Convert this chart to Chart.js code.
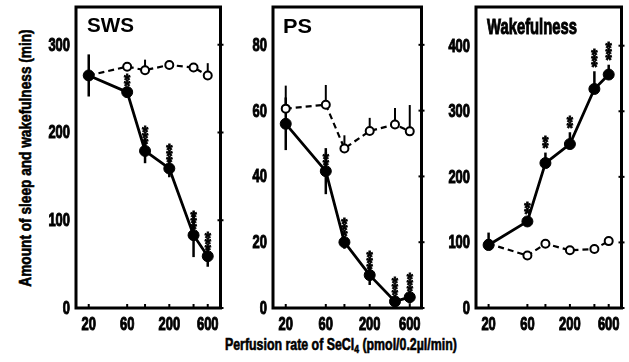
<!DOCTYPE html>
<html>
<head>
<meta charset="utf-8">
<script src="https://cdn.jsdelivr.net/npm/chart.js@4.4.1/dist/chart.umd.min.js"></script>
<style>
  body { margin: 0; background: #fff; width: 629px; height: 362px; overflow: hidden; position: relative; }
  canvas { position: absolute; top: 0; }
  .lab { position: absolute; white-space: nowrap; font-family: "Liberation Sans", Arial, sans-serif; font-weight: bold; font-size: 16px; color: #000; line-height: 1; -webkit-text-stroke: 0.6px #000; }
  sub { font-size: 11px; vertical-align: -3px; line-height: 0; }
</style>
</head>
<body>
<canvas id="sws" width="191" height="333" style="left:36px"></canvas>
<canvas id="ps" width="195" height="333" style="left:233px"></canvas>
<canvas id="wake" width="192" height="333" style="left:436px"></canvas>
<div class="lab" id="ylab">Amount of sleep and wakefulness (min)</div>
<div class="lab" id="xlab">Perfusion rate of SeCl<sub>4</sub> (pmol/0.2µl/min)</div>
<script>
// doses on the log x axis (pmol/0.2ul/min)
const doses = [20, 60, 100, 200, 400, 600];
const doseLabels = [20, 60, 200, 600];

// SWS panel
const swsSeCl = [265, 246, 179, 159, 83, 59];
const swsSeClErr = [24, 6, 14, 10, 25, 12];
const swsControl = [265, 275, 271, 277, 274, 265];
const swsControlErr = [0, 3, 12, 0, 5, 14];
const swsStars = [0, 2, 3, 3, 3, 3];
const swsTicks = [0, 100, 200, 300];

// PS panel
const psSeCl = [56, 41.6, 20, 10, 2, 3.3];
const psSeClErr = [8, 7, 2, 3, 2, 2];
const psControl = [60.6, 61.8, 48.5, 53.8, 55.8, 53.7];
const psControlErr = [7, 6, 4, 4, 5, 8];
const psStars = [0, 2, 3, 3, 3, 3];
const psTicks = [0, 20, 40, 60, 80];

// Wakefulness panel
const wakeSeCl = [96, 132, 221, 250, 334, 356];
const wakeSeClErr = [19, 5, 16, 18, 27, 15];
const wakeControl = [98, 80, 98, 88, 90, 102];
const wakeControlErr = [5, 3, 3, 2, 3, 3];
const wakeStars = [0, 2, 2, 2, 3, 3];
const wakeTicks = [0, 100, 200, 300, 400];

const FONT = '"Liberation Sans", Arial, sans-serif';

// bold text squeezed horizontally (the scan uses a condensed face)
function condText(ctx, text, x, y, size, sx, align, heavy) {
  ctx.save();
  ctx.font = 'bold ' + size + 'px ' + FONT;
  ctx.translate(x, y);
  ctx.scale(sx, 1);
  ctx.textAlign = align;
  ctx.textBaseline = 'middle';
  ctx.fillStyle = '#000';
  ctx.fillText(text, 0, 0);
  if (heavy) {
    ctx.strokeStyle = '#000';
    ctx.lineWidth = heavy;
    ctx.strokeText(text, 0, 0);
  }
  ctx.restore();
}

const decoPlugin = {
  id: 'deco',
  beforeDatasetsDraw(chart, args, o) {
    const { ctx, scales: { x, y } } = chart;
    ctx.save();
    ctx.strokeStyle = '#000';
    ctx.lineCap = 'butt';
    const bar = (vals, errs, dir, lw) => {
      ctx.lineWidth = lw;
      vals.forEach((v, i) => {
        if (!errs[i]) return;
        const px = x.getPixelForValue(doses[i]);
        const top = dir === 'down' ? v : v + errs[i];
        const bot = dir === 'up' ? v : v - errs[i];
        ctx.beginPath();
        ctx.moveTo(px, y.getPixelForValue(top));
        ctx.lineTo(px, y.getPixelForValue(bot));
        ctx.stroke();
      });
    };
    bar(o.seCl, o.seClErr, o.seClDir, 2.5);
    bar(o.ctrl, o.ctrlErr, o.ctrlDir, 2);
    ctx.restore();
  },
  afterDatasetsDraw(chart, args, o) {
    const { ctx, scales: { x, y } } = chart;
    o.stars.forEach((n, i) => {
      const px = x.getPixelForValue(doses[i]);
      let base = y.getPixelForValue(o.seCl[i]) - 9;
      if (o.starsOverErr) base = y.getPixelForValue(o.seCl[i] + o.seClErr[i]) - 7;
      for (let k = 0; k < n; k++) {
        condText(ctx, '*', px, base - k * 6 + 4, 16, 1, 'center', 0.8);
      }
    });
  },
  afterDraw(chart, args, o) {
    const { ctx, chartArea: a, scales: { x, y } } = chart;
    ctx.save();
    ctx.strokeStyle = '#000';
    ctx.lineWidth = 3;
    ctx.strokeRect(a.left, a.top, a.right - a.left, a.bottom - a.top);
    ctx.lineWidth = 2;
    // small ticks on the bottom and right edges
    doses.forEach(d => {
      const px = x.getPixelForValue(d);
      ctx.beginPath(); ctx.moveTo(px, a.bottom); ctx.lineTo(px, a.bottom - 4); ctx.stroke();
    });
    y.ticks.forEach(t => {
      const py = y.getPixelForValue(t.value);
      ctx.beginPath(); ctx.moveTo(a.right - 3, py); ctx.lineTo(a.right + 3, py); ctx.stroke();
    });
    ctx.restore();
    // tick labels
    y.ticks.forEach(t => {
      condText(ctx, String(t.value), a.left - 6, y.getPixelForValue(t.value) + 1, 18, 0.72, 'right', 1);
    });
    doseLabels.forEach(d => {
      condText(ctx, String(d), x.getPixelForValue(d), a.bottom + 17, 18, 0.72, 'center', 1);
    });
    // panel title
    ctx.save();
    ctx.font = 'bold ' + o.titleSize + 'px ' + FONT;
    const w = ctx.measureText(o.title).width;
    ctx.translate(a.left + o.titleDx, o.titleBase);
    ctx.scale(o.titleWidth / w, 1);
    ctx.textAlign = 'left';
    ctx.textBaseline = 'alphabetic';
    ctx.fillStyle = '#000';
    ctx.fillText(o.title, 0, 0);
    ctx.strokeStyle = '#000';
    ctx.lineWidth = o.titleHeavy;
    if (o.titleHeavy) ctx.strokeText(o.title, 0, 0);
    ctx.restore();
  }
};

function makePanel(id, deco, yMax, yTicks, xMin, xMax) {
  const pts = vals => doses.map((d, i) => ({ x: d, y: vals[i] }));
  new Chart(document.getElementById(id), {
    type: 'scatter',
    data: {
      datasets: [
        {
          data: pts(deco.seCl), showLine: true, borderColor: '#000', borderWidth: 2.8,
          pointRadius: 5.5, pointBackgroundColor: '#000', pointBorderColor: '#000', pointBorderWidth: 1
        },
        {
          data: pts(deco.ctrl), showLine: true, borderColor: '#000', borderWidth: 2.2, borderDash: [6, 4],
          pointRadius: 4, pointBackgroundColor: '#fff', pointBorderColor: '#000', pointBorderWidth: 2
        }
      ]
    },
    options: {
      responsive: false,
      animation: false,
      layout: { padding: { top: 7, right: 4, left: 0, bottom: 0 } },
      plugins: { legend: { display: false }, tooltip: { enabled: false }, deco: deco },
      scales: {
        x: {
          type: 'logarithmic', min: xMin, max: xMax,
          afterBuildTicks: s => { s.ticks = doses.map(v => ({ value: v })); },
          ticks: { display: false },
          grid: { display: false }, border: { display: false },
          afterFit: s => { s.height = 25; }
        },
        y: {
          min: 0, max: yMax,
          afterBuildTicks: s => { s.ticks = yTicks.map(v => ({ value: v })); },
          ticks: { display: false },
          grid: { display: false }, border: { display: false },
          afterFit: s => { s.width = 40; }
        }
      }
    },
    plugins: [decoPlugin]
  });
}

makePanel('sws', {
  seCl: swsSeCl, seClErr: swsSeClErr, seClDir: 'both',
  ctrl: swsControl, ctrlErr: swsControlErr, ctrlDir: 'up',
  stars: swsStars, starsOverErr: false,
  title: 'SWS', titleSize: 21, titleDx: 11, titleBase: 32, titleWidth: 47, titleHeavy: 0
}, 343, swsTicks, 13.9, 864);

makePanel('ps', {
  seCl: psSeCl, seClErr: psSeClErr, seClDir: 'both',
  ctrl: psControl, ctrlErr: psControlErr, ctrlDir: 'up',
  stars: psStars, starsOverErr: false,
  title: 'PS', titleSize: 21, titleDx: 10, titleBase: 33, titleWidth: 29, titleHeavy: 0
}, 91.5, psTicks, 14.1, 828);

makePanel('wake', {
  seCl: wakeSeCl, seClErr: wakeSeClErr, seClDir: 'up',
  ctrl: wakeControl, ctrlErr: wakeControlErr, ctrlDir: 'down',
  stars: wakeStars, starsOverErr: true,
  title: 'Wakefulness', titleSize: 22, titleDx: 11, titleBase: 34, titleWidth: 90, titleHeavy: 1
}, 459, wakeTicks, 14.0, 862);

// fit the two axis titles to their measured lengths in the scan
function fitLabel(el, cx, cy, len, rot) {
  const w = el.offsetWidth, h = el.offsetHeight;
  el.style.left = (cx - w / 2) + 'px';
  el.style.top = (cy - h / 2) + 'px';
  el.style.transform = (rot ? 'rotate(-90deg) ' : '') + 'scaleX(' + (len / w) + ')';
}
fitLabel(document.getElementById('ylab'), 25, 158, 257, true);
fitLabel(document.getElementById('xlab'), 341, 345, 232, false);
</script>
</body>
</html>
